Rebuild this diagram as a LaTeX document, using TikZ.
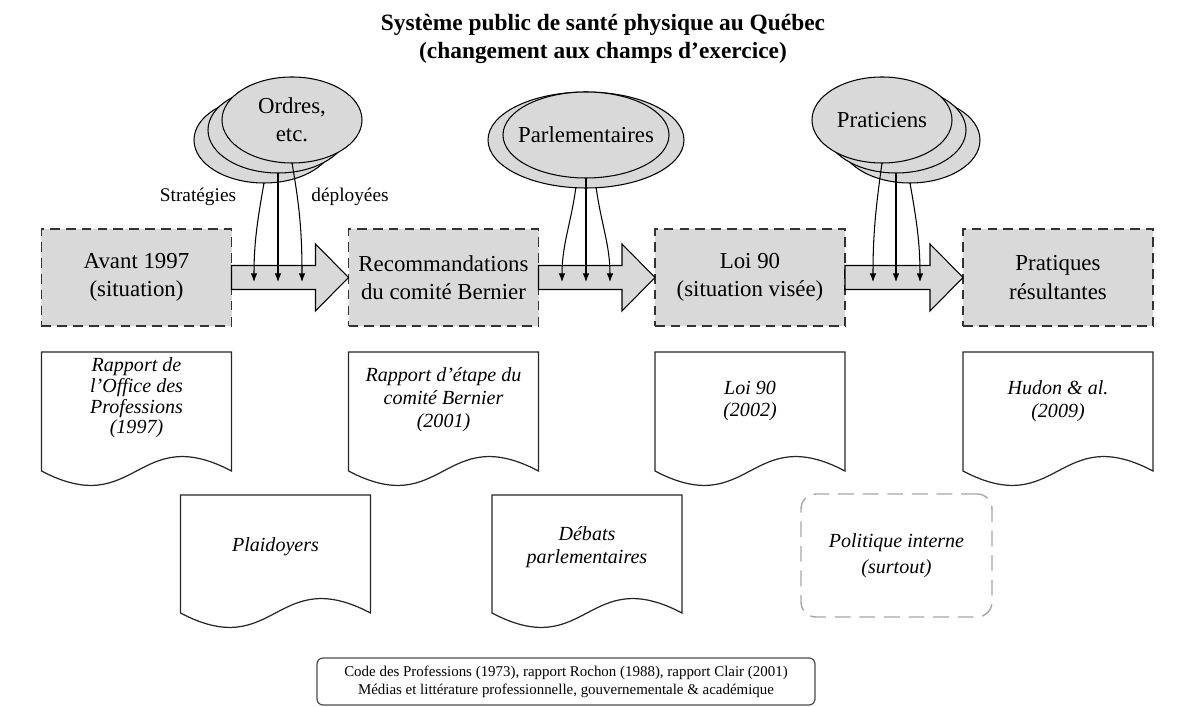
\documentclass[tikz,border=0pt]{standalone}
\usepackage{fontspec}
\setmainfont{Liberation Serif}
\usepackage{tikz}
\usetikzlibrary{arrows.meta, shapes.geometric, calc}

\tikzset{
  titre/.style={font=\fontsize{13.3}{16}\selectfont\bfseries, align=center},
  etape/.style={rectangle, draw=black!80, fill=gray!30, line width=0.8pt,
    dash pattern=on 5.5pt off 3.5pt,
    minimum width=3.8cm, minimum height=1.94cm, inner sep=2pt, outer sep=0pt,
    align=center, font=\fontsize{13}{16}\selectfont},
  bulle/.style={ellipse, draw=black, fill=gray!30, line width=0.6pt,
    minimum width=2.8cm, minimum height=1.72cm, inner sep=0pt, outer sep=0pt},
  bultxt/.style={align=center, font=\fontsize{13}{16}\selectfont},
  legende/.style={font=\fontsize{11}{13}\selectfont},
  fleche/.style={draw=black, fill=gray!30, line width=0.6pt},
  strat/.style={-{Latex[length=1.7mm,width=1.3mm]}, black, line width=0.6pt},
  docline/.style={draw=black!85, line width=0.7pt},
  doctxt/.style={align=center, font=\fontsize{11.4}{13}\selectfont\itshape},
  interne/.style={rectangle, rounded corners=0.3cm, draw=gray!70,
    line width=0.8pt, dash pattern=on 9pt off 5pt,
    minimum width=3.82cm, minimum height=2.46cm,
    align=center, font=\fontsize{11.4}{15}\selectfont\itshape},
  sources/.style={rectangle, rounded corners=0.12cm, draw=black!70,
    line width=0.7pt, minimum width=9.96cm, minimum height=0.94cm,
    align=center, font=\fontsize{8.5}{10.2}\selectfont},
}

% large arrow between two stages
\newcommand{\grossefleche}[2]{%
  \draw[fleche] ($(#1.east)+(0,0.24)$) -- ($(#2.west)+(-0.66,0.24)$)
    -- ++(0,0.43) -- (#2.west) -- ++(-0.66,-0.67) -- ++(0,0.43)
    -- ($(#1.east)+(0,-0.24)$) -- cycle;}

% document sheet: centre x, top, wavy bottom
\newcommand{\feuille}[3]{%
  \draw[docline] (#1-1.9,#2) -- (#1+1.9,#2) -- (#1+1.9,#3)
    .. controls (#1,#3+1.0) and (#1,#3-1.0) .. (#1-1.9,#3) -- cycle;}

\begin{document}
\begin{tikzpicture}
  \useasboundingbox (0,0) rectangle (23.66,14.14);

  % Title
  \node[titre] (titre) at (12.06,13.36)
       {Système public de santé physique au Québec\\(changement aux champs d'exercice)};

  % Stages
  \node[etape] (b1) at (2.73,8.59)  {Avant 1997\\(situation)};
  \node[etape] (b2) at (8.87,8.59)  {Recommandations\\du comité Bernier};
  \node[etape] (b3) at (15.00,8.59) {Loi 90\\(situation visée)};
  \node[etape] (b4) at (21.16,8.59) {Pratiques\\résultantes};

  \grossefleche{b1}{b2}
  \grossefleche{b2}{b3}
  \grossefleche{b3}{b4}

  % Actors: Ordres
  \node[bulle] (ord3) at (5.28,11.34) {};
  \node[bulle] (ord2) at (5.56,11.54) {};
  \node[bulle] (ord1) at (5.84,11.74) {};
  \node[bultxt] (ordtxt) at (ord1) {Ordres,\\etc.};

  % Actors: Parlementaires
  \node[bulle, minimum width=3.92cm, minimum height=1.92cm] (parl2) at (11.72,11.34) {};
  \node[bulle, minimum width=3.32cm] (parl1) at (11.72,11.44) {};
  \node[bultxt] (parltxt) at (parl1) {Parlementaires};

  % Actors: Praticiens
  \node[bulle] (prat3) at (18.20,11.34) {};
  \node[bulle] (prat2) at (17.92,11.54) {};
  \node[bulle] (prat1) at (17.64,11.74) {};
  \node[bultxt] (prattxt) at (prat1) {Praticiens};

  \node[legende] (strat) at (3.96,10.20) {Stratégies};
  \node[legende] (depl)  at (7.00,10.20) {déployées};

  % Strategy arrows
  \coordinate (o1) at (5.08,8.50);
  \coordinate (o2) at (5.56,8.50);
  \coordinate (o3) at (6.04,8.50);
  \draw[strat] (ord3.south) to[out=-100, in=90] (o1);
  \draw[strat] (ord2.south) -- (o2);
  \draw[strat] (ord1.south) to[out=-80, in=90] (o3);

  \coordinate (p1) at (11.24,8.50);
  \coordinate (p2) at (11.72,8.50);
  \coordinate (p3) at (12.20,8.50);
  \draw[strat] (parl2.258) to[out=-98, in=90] (p1);
  \draw[strat] (parl1.south) -- (p2);
  \draw[strat] (parl2.282) to[out=-82, in=90] (p3);

  \coordinate (r1) at (17.46,8.50);
  \coordinate (r2) at (17.92,8.50);
  \coordinate (r3) at (18.40,8.50);
  \draw[strat] (prat1.south) to[out=-98, in=90] (r1);
  \draw[strat] (prat2.south) -- (r2);
  \draw[strat] (prat3.south) to[out=-80, in=90] (r3);

  % Documents
  \feuille{2.73}{7.10}{4.72}
  \feuille{8.87}{7.10}{4.72}
  \feuille{15.00}{7.10}{4.72}
  \feuille{21.16}{7.10}{4.72}
  \feuille{5.51}{4.24}{1.88}
  \feuille{11.74}{4.24}{1.88}

  \node[doctxt, font=\fontsize{11.4}{11.8}\selectfont\itshape] (d1) at (2.73,6.18)
       {Rapport de\\l'Office des\\Professions\\(1997)};
  \node[doctxt] (d2) at (8.87,6.14)  {Rapport d'étape du\\comité Bernier\\(2001)};
  \node[doctxt] (d3) at (15.00,6.12) {Loi 90\\(2002)};
  \node[doctxt] (d4) at (21.16,6.12) {Hudon \& al.\\(2009)};
  \node[doctxt] (d5) at (5.51,3.20)  {Plaidoyers};
  \node[doctxt] (d6) at (11.74,3.20) {Débats\\parlementaires};

  \node[interne] (pol) at (17.93,3.03) {Politique interne\\(surtout)};

  % Sources
  \node[sources] (src) at (11.32,0.51)
       {Code des Professions (1973), rapport Rochon (1988), rapport Clair (2001)\\
        Médias et littérature professionnelle, gouvernementale \& académique};
\end{tikzpicture}
\end{document}
